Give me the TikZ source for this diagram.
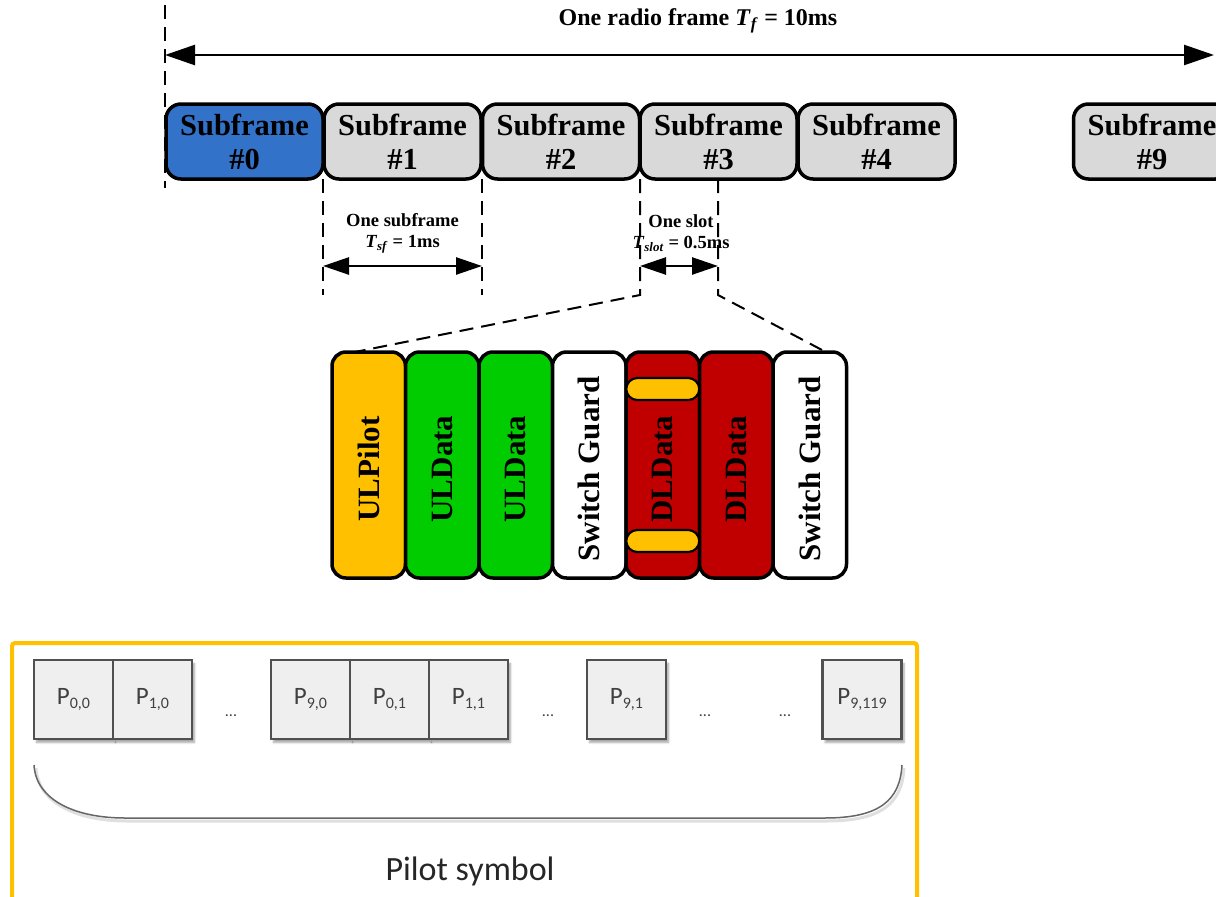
\documentclass[tikz,border=0pt]{standalone}
\usepackage{fontspec}
\setmainfont{Liberation Serif}
\newfontfamily\calfont{Carlito}
\usetikzlibrary{arrows.meta,shadows.blur}

\definecolor{sfblue}{RGB}{50,114,200}
\definecolor{sfgray}{RGB}{217,217,217}
\definecolor{pilotyellow}{RGB}{255,192,0}
\definecolor{datagreen}{RGB}{0,204,0}
\definecolor{datared}{RGB}{192,0,0}
\definecolor{cellfill}{RGB}{239,239,239}
\definecolor{celledge}{RGB}{80,80,80}
\definecolor{celltext}{RGB}{64,64,64}

\tikzset{
  sfbox/.style={draw=black, line width=3.5pt, rounded corners=15pt,
    minimum width=157pt, minimum height=75pt, inner sep=0pt,
    align=center, font=\fontsize{30.5}{34}\selectfont\bfseries},
  slotbox/.style={draw=black, line width=3.5pt, rounded corners=14pt,
    minimum width=73.5pt, minimum height=226pt, inner sep=0pt},
  slottext/.style={rotate=90, font=\fontsize{31}{32}\selectfont\bfseries},
  pill/.style={draw=black, fill=pilotyellow, line width=2.2pt, rounded corners=11pt,
    minimum width=73pt, minimum height=22pt, inner sep=0pt},
  guide/.style={line width=2pt, dash pattern=on 14pt off 8pt},
  span/.style={line width=2.5pt, {Triangle[length=26pt,width=17pt]}-{Triangle[length=26pt,width=17pt]}},
  smalllabel/.style={align=center, font=\fontsize{18.5}{21}\selectfont\bfseries},
  cell/.style={draw=celledge, fill=cellfill, line width=2.8pt, minimum width=79pt,
    minimum height=79pt, inner sep=0pt, text=celltext,
    font=\calfont\fontsize{25}{25}\selectfont,
    blur shadow={shadow xshift=2.5pt, shadow yshift=-3.5pt, shadow blur steps=6, shadow opacity=35}},
  dots/.style={text=celltext, font=\calfont\fontsize{16}{16}\selectfont},
}

\newcommand{\pcell}[1]{P\raisebox{-4.5pt}{\fontsize{16}{16}\selectfont #1}}

\begin{document}
\begin{tikzpicture}[x=1pt, y=-1pt]
\useasboundingbox (0,0) rectangle (1216,897);
\clip (0,0) rectangle (1216,897);

% ---------- radio frame ----------
\node[font=\fontsize{24}{26}\selectfont\bfseries] (title) at (698,21)
  {One radio frame \textit{T}\textsubscript{\textit{f}} = 10ms};

\node[sfbox, fill=sfblue]  (sf0) at (244.5,141.5) {Subframe\\\#0};
\node[sfbox, fill=sfgray]  (sf1) at (402.5,141.5) {Subframe\\\#1};
\node[sfbox, fill=sfgray]  (sf2) at (561,141.5)   {Subframe\\\#2};
\node[sfbox, fill=sfgray]  (sf3) at (718.5,141.5) {Subframe\\\#3};
\node[sfbox, fill=sfgray]  (sf4) at (876.5,141.5) {Subframe\\\#4};
\node[sfbox, fill=sfgray]  (sf9) at (1152,141.5)  {Subframe\\\#9};

% frame extent
\coordinate (ftop) at (165,5);
\coordinate (fbot) at (165,188);
\coordinate (fl) at (165,55);
\coordinate (fr) at (1214,55);
\draw[guide] (ftop) -- (fbot);
\draw[line width=2.5pt, {Triangle[length=30pt,width=20pt]}-{Triangle[length=30pt,width=20pt]}] (fl) -- (fr);

% subframe extent
\coordinate (a1) at (323,179);
\coordinate (a2) at (482,179);
\coordinate (a1b) at (323,295);
\coordinate (a2b) at (482,295);
\draw[guide] (a1) -- (a1b);
\draw[guide] (a2) -- (a2b);
\coordinate (a1m) at (323,266);
\coordinate (a2m) at (482,266);
\draw[span] (a1m) -- (a2m);
\node[smalllabel] (sflab) at (402.5,233)
  {One subframe\\\textit{T}\textsubscript{\textit{sf}} = 1ms};

% slot extent
\coordinate (s1) at (640,179);
\coordinate (s2) at (718,179);
\coordinate (s1b) at (640,295);
\coordinate (s2b) at (718,295);
\coordinate (s1m) at (640,266);
\coordinate (s2m) at (718,266);
\draw[span] (s1m) -- (s2m);
\node[smalllabel] (slotlab) at (681,233)
  {One slot\\\textit{T}\textsubscript{\textit{slot}} = 0.5ms};

% ---------- slot contents ----------
\node[slotbox, fill=pilotyellow] (c1) at (368.75,465) {};
\node[slotbox, fill=datagreen]   (c2) at (442.25,465) {};
\node[slotbox, fill=datagreen]   (c3) at (515.75,465) {};
\node[slotbox, fill=white]       (c4) at (589.25,465) {};
\node[slotbox, fill=datared]     (c5) at (662.75,465) {};
\node[slotbox, fill=datared]     (c6) at (736.25,465) {};
\node[slotbox, fill=white]       (c7) at (809.75,465) {};
\node[pill] (pa) at (662.75,389) {};
\node[pill] (pb) at (662.75,541) {};

\node[slottext] at ([yshift=-4pt]c1.center) {ULPilot};
\node[slottext] at ([yshift=-4pt]c2.center) {ULData};
\node[slottext] at ([yshift=-4pt]c3.center) {ULData};
\node[slottext] at ([yshift=-4pt]c4.center) {Switch Guard};
\node[slottext] at ([yshift=-4pt]c5.center) {DLData};
\node[slottext] at ([yshift=-4pt]c6.center) {DLData};
\node[slottext] at ([yshift=-4pt]c7.center) {Switch Guard};

% zoom guides
\coordinate (z1) at (355,352);
\coordinate (z2) at (822,350);
\draw[guide] (s1) -- (s1b) -- (z1);
\draw[guide] (s2) -- (s2b) -- (z2);

% ---------- pilot symbol ----------
\draw[pilotyellow, line width=4pt, rounded corners=3pt] (12,910) -- (12,643) -- (917,643) -- (917,910);

\node[cell] (p00) at (73.5,699.5)  {\pcell{0,0}};
\node[cell] (p10) at (152.5,699.5) {\pcell{1,0}};
\node[dots] (d1) at (231,716) {...};
\node[cell] (p90) at (310.5,699.5) {\pcell{9,0}};
\node[cell] (p01) at (389.5,699.5) {\pcell{0,1}};
\node[cell] (p11) at (468.5,699.5) {\pcell{1,1}};
\node[dots] (d2) at (548,716) {...};
\node[cell] (p91) at (626.5,699.5) {\pcell{9,1}};
\node[dots] (d3) at (705,716) {...};
\node[dots] (d4) at (785,716) {...};
\node[cell] (p9x) at (862,699.5) {\pcell{9,119}};

\coordinate (bl) at (34,765);
\coordinate (br) at (902,765);
\draw[gray!25, line width=3pt] (bl) ++(2,3) .. controls (38,803) and (77,821) .. (127,821)
  -- (827,821) .. controls (882,821) and (902,803) .. (904,768);
\draw[gray!80!black, line width=1.5pt] (bl) .. controls (36,800) and (75,818) .. (125,818)
  -- (825,818) .. controls (880,818) and (900,800) .. (br);

\node[text=black!85, font=\calfont\fontsize{34}{36}\selectfont] (ps) at (470,871) {Pilot symbol};
\end{tikzpicture}
\end{document}
